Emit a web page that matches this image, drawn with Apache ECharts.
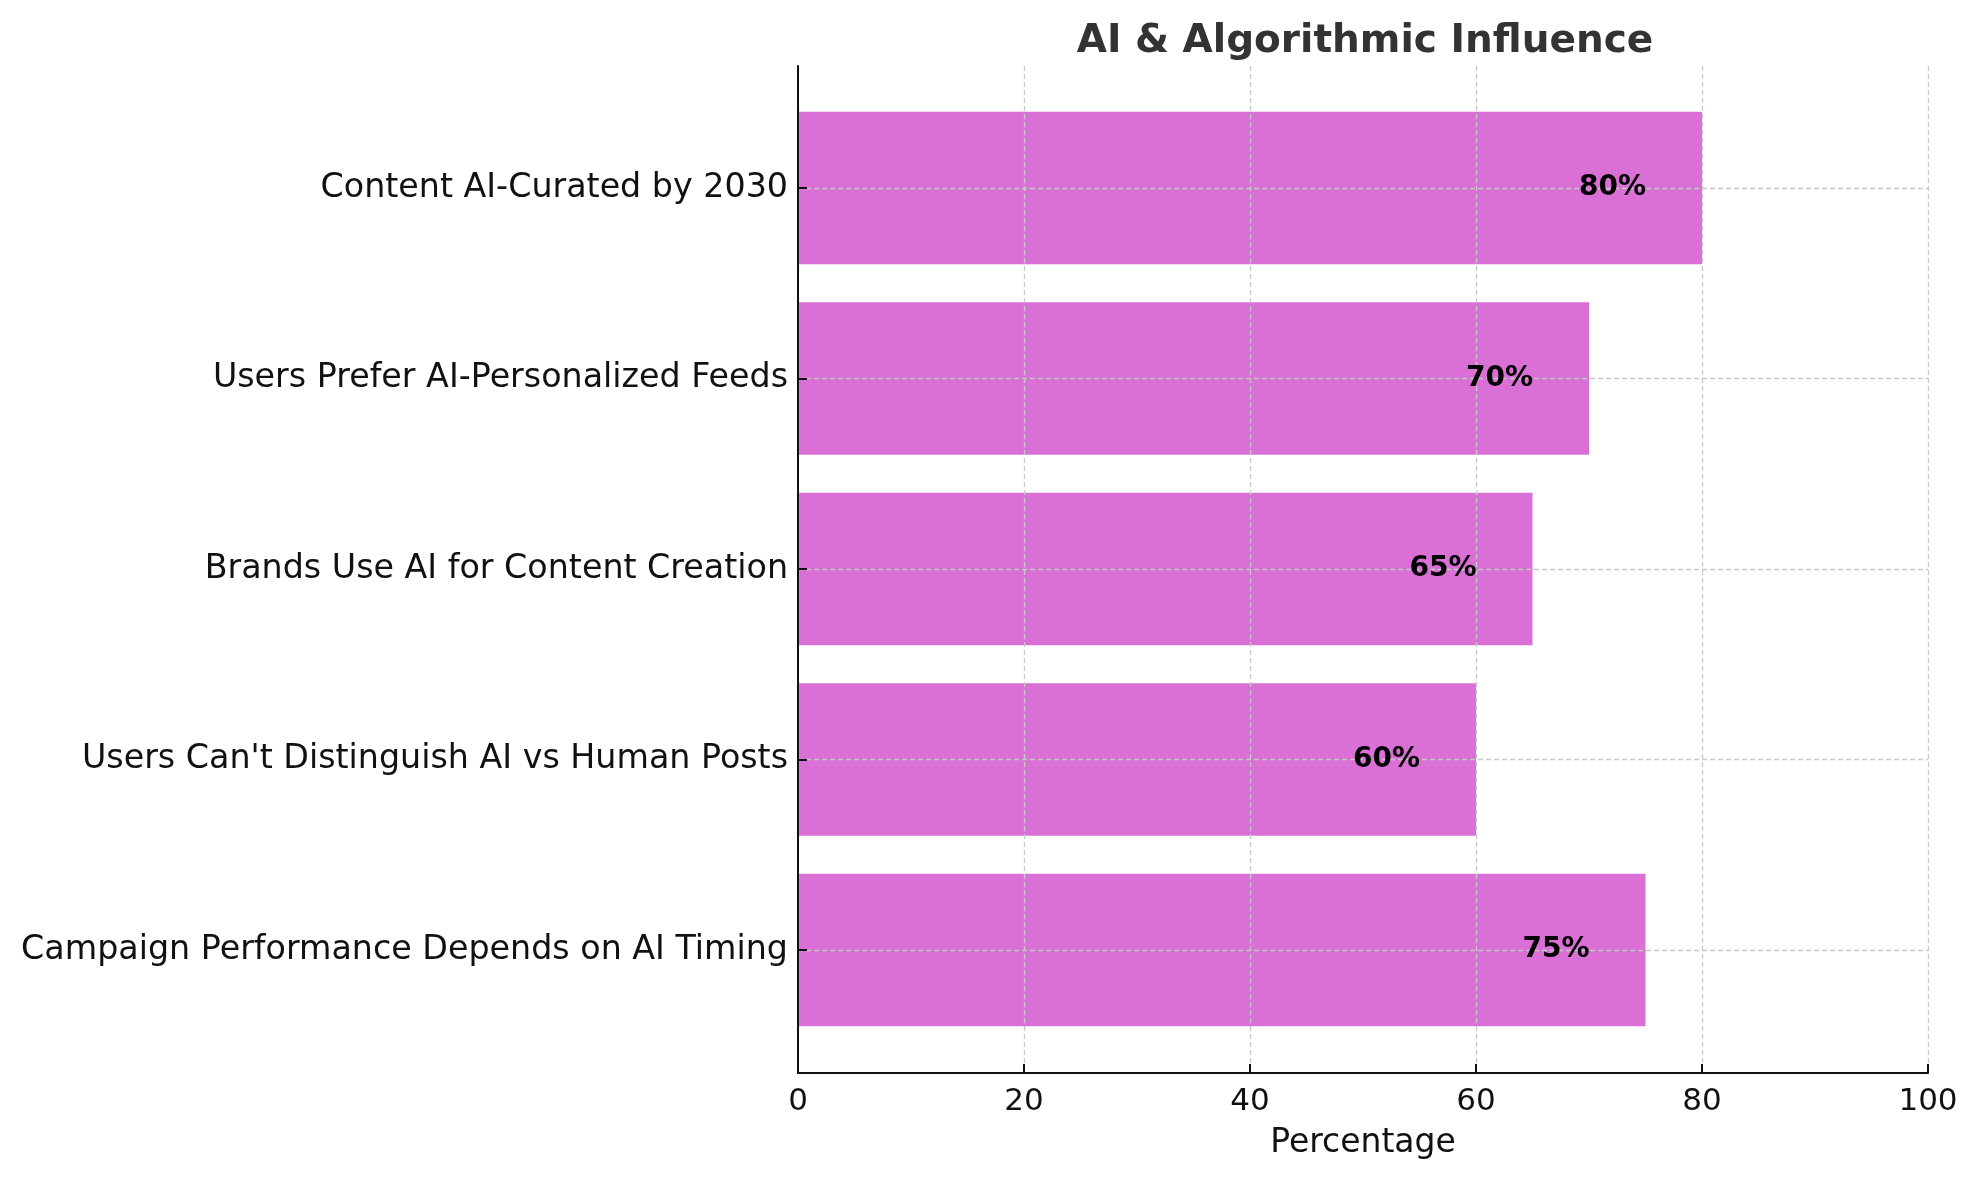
<!DOCTYPE html>
<html>
<head>
<meta charset="utf-8">
<script src="https://cdn.jsdelivr.net/npm/echarts@6/dist/echarts.min.js"></script>
<style>html,body{margin:0;padding:0;background:#fff}#c{width:1979px;height:1180px}</style>
</head>
<body>
<div id="c"></div>
<script>
var categories = [
  "Content AI-Curated by 2030",
  "Users Prefer AI-Personalized Feeds",
  "Brands Use AI for Content Creation",
  "Users Can't Distinguish AI vs Human Posts",
  "Campaign Performance Depends on AI Timing"
];
var values = [80, 70, 65, 60, 75];
var xTicks = [0, 20, 40, 60, 80, 100];
var titleText = "AI & Algorithmic Influence";
var xName = "Percentage";

var FONT = "DejaVu Sans";
var chart = echarts.init(document.getElementById('c'), null, {renderer: 'canvas'});
var dash = {color: '#c8c8c8', width: 1.3, type: [5, 3]};
chart.setOption({
  backgroundColor: '#fff',
  animation: false,
  title: {
    text: titleText, left: 1360, top: 17, textAlign: 'center',
    textStyle: {fontFamily: FONT, fontSize: 39, fontWeight: 'bold', color: '#333'}
  },
  grid: [
    {left: 798, right: 51, top: 66, bottom: 107},
    {left: 798, right: 51, top: 188, bottom: 230}
  ],
  xAxis: [
    {
      gridIndex: 0, type: 'value', min: xTicks[0], max: xTicks[xTicks.length - 1], interval: 20, z: 3,
      name: xName, nameLocation: 'middle', nameGap: 54,
      nameTextStyle: {fontFamily: FONT, fontSize: 33, color: '#111'},
      axisLine: {show: true, lineStyle: {color: '#111', width: 2}},
      axisTick: {show: true, inside: true, length: 9, lineStyle: {color: '#111', width: 2}},
      axisLabel: {fontFamily: FONT, fontSize: 31, color: '#111', margin: 13},
      splitLine: {show: true, lineStyle: dash}
    },
    {
      gridIndex: 1, type: 'value', min: 0, max: 100, show: false
    }
  ],
  yAxis: [
    {
      gridIndex: 0, type: 'value', min: 0, max: 1, z: 3,
      axisLine: {show: true, lineStyle: {color: '#111', width: 2}},
      axisTick: {show: false}, axisLabel: {show: false}, splitLine: {show: false}
    },
    {
      gridIndex: 1, type: 'category', data: categories, inverse: true, boundaryGap: false, z: 3,
      axisLine: {show: false},
      axisTick: {show: true, inside: true, length: 9, interval: 0, lineStyle: {color: '#111', width: 2}},
      axisLabel: {fontFamily: FONT, fontSize: 33.3, color: '#111', margin: 10, interval: 0, padding: [13, 0, 0, 0]},
      splitLine: {show: true, interval: 0, lineStyle: dash}
    }
  ],
  series: [
    {
      type: 'bar', xAxisIndex: 1, yAxisIndex: 1, data: values, barWidth: '80%', clip: false, z: 2,
      itemStyle: {color: '#DA70D6'}, silent: true
    },
    {
      type: 'bar', xAxisIndex: 1, yAxisIndex: 1, data: values, barWidth: '80%', barGap: '-100%', clip: false, z: 10,
      itemStyle: {color: 'rgba(0,0,0,0)'}, silent: true,
      label: {
        show: true, position: 'insideRight', distance: 56, padding: [7, 0, 0, 0],
        formatter: function (p) { return p.value + '%'; },
        fontFamily: FONT, fontSize: 28, fontWeight: 'bold', color: '#000'
      }
    }
  ]
});
</script>
</body>
</html>
